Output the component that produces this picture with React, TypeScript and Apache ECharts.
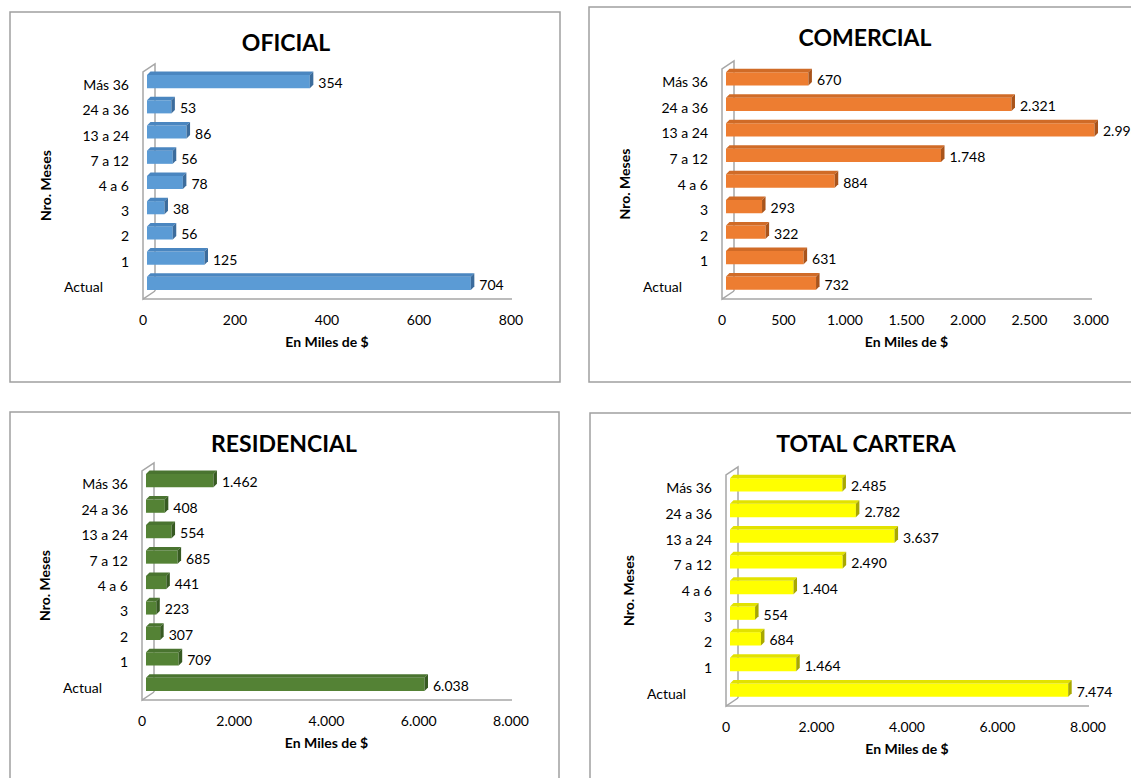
import React, { useEffect, useRef } from "react";
import * as echarts from "echarts";

const CATEGORIES = ["Actual", "1", "2", "3", "4 a 6", "7 a 12", "13 a 24", "24 a 36", "Más 36"];

const OFICIAL = [704, 125, 56, 38, 78, 56, 86, 53, 354];
const COMERCIAL = [732, 631, 322, 293, 884, 1748, 2996, 2321, 670];
const RESIDENCIAL = [6038, 709, 307, 223, 441, 685, 554, 408, 1462];
const TOTAL_CARTERA = [7474, 1464, 684, 554, 1404, 2490, 3637, 2782, 2485];

const TITLES = ["OFICIAL", "COMERCIAL", "RESIDENCIAL", "TOTAL CARTERA"];
const X_MAX = [800, 3000, 8000, 8000];
const X_INTERVAL = [200, 500, 2000, 2000];
const X_NAME = "En Miles de $";
const Y_NAME = "Nro. Meses";

const SERIES_VALUES = [OFICIAL, COMERCIAL, RESIDENCIAL, TOTAL_CARTERA];

const COLORS = [
  { front: "#5B9BD5", top: "#4A86C0", side: "#3C6C9C" },
  { front: "#ED7D31", top: "#D06B27", side: "#A9541B" },
  { front: "#548235", top: "#4A7430", side: "#375A22" },
  { front: "#FFFF00", top: "#E2E200", side: "#A8A800" },
];

// layout (pixels)
const GRIDS = [
  { left: 143, top: 72, width: 368, height: 227 },
  { left: 722, top: 69, width: 369, height: 230 },
  { left: 142, top: 471, width: 369, height: 229 },
  { left: 726, top: 475, width: 362, height: 231 },
];
const PANELS = [
  { x: 10, y: 12, width: 550, height: 370 },
  { x: 589, y: 7, width: 620, height: 375 },
  { x: 10, y: 412, width: 549, height: 420 },
  { x: 590, y: 413, width: 620, height: 420 },
];
const TITLE_POS = [
  [286, 42],
  [865, 37],
  [284, 443],
  [866, 443],
];

const FONT = "Lato, 'Noto Sans', sans-serif";
const WALL = "#A6A6A6";
const OFF_X = 4;
const OFF_Y = -3;
const DEPTH = 3.5;
const WALL_X = 12;
const WALL_Y = -8;

const fmt = (n: number) => String(Math.round(n)).replace(/\B(?=(\d{3})+(?!\d))/g, ".");

function buildOption() {
  const grid = GRIDS.map((g) => ({ ...g }));
  const xAxis = GRIDS.map((_, i) => ({
    type: "value",
    gridIndex: i,
    min: 0,
    max: X_MAX[i],
    interval: X_INTERVAL[i],
    axisLine: { show: false },
    axisTick: { show: false },
    splitLine: { show: false },
    axisLabel: {
      formatter: (v: number) => fmt(v),
      margin: 13,
      fontSize: 14,
      fontFamily: FONT,
      color: "#000",
    },
    name: X_NAME,
    nameLocation: "middle",
    nameGap: 35,
    nameTextStyle: { fontSize: 14, fontWeight: "bold", fontFamily: FONT, color: "#000" },
  }));
  const yAxis = GRIDS.map((_, i) => ({
    type: "category",
    gridIndex: i,
    data: CATEGORIES,
    axisLine: { show: false },
    axisTick: { show: false },
    splitLine: { show: false },
    axisLabel: {
      margin: 14,
      fontSize: 14,
      fontFamily: FONT,
      color: "#000",
      formatter: (v: string) => (v === "Actual" ? `{a|${v}}` : v),
      rich: {
        a: { fontSize: 14, fontFamily: FONT, color: "#000", padding: [0, 26, 0, 0] },
      },
    },
    name: Y_NAME,
    nameLocation: "middle",
    nameGap: 91,
    nameRotate: 90,
    nameTextStyle: { fontSize: 14, fontWeight: "bold", fontFamily: FONT, color: "#000" },
  }));

  const series: any[] = [];
  GRIDS.forEach((_, gi) => {
    series.push({
      type: "custom",
      xAxisIndex: gi,
      yAxisIndex: gi,
      z: 1,
      silent: true,
      data: [[0, 0]],
      renderItem: (params: any) => {
        const cs = params.coordSys;
        const x = cs.x;
        const y = cs.y;
        const w = cs.width;
        const h = cs.height;
        const ls = { stroke: WALL, lineWidth: 1.5, fill: "none" };
        return {
          type: "group",
          children: [
            {
              type: "polyline",
              shape: {
                points: [
                  [x + WALL_X, y + h + WALL_Y],
                  [x + WALL_X, y + WALL_Y],
                  [x, y],
                  [x, y + h],
                  [x + WALL_X, y + h + WALL_Y],
                ],
              },
              style: ls,
            },
            { type: "line", shape: { x1: x, y1: y + h, x2: x + w + 1, y2: y + h }, style: ls },
          ],
        };
      },
    });
    const col = COLORS[gi];
    series.push({
      type: "custom",
      xAxisIndex: gi,
      yAxisIndex: gi,
      z: 3,
      data: SERIES_VALUES[gi].map((v, i) => [v, i]),
      renderItem: (params: any, api: any) => {
        const v = api.value(0);
        const ci = api.value(1);
        const p0 = api.coord([0, ci]);
        const p1 = api.coord([v, ci]);
        const band = api.size([0, 1])[1];
        const h = band * 0.52;
        const x0 = p0[0] + OFF_X;
        const x1 = p1[0] + OFF_X;
        const yc = p0[1] + OFF_Y;
        const yt = yc - h / 2;
        const yb = yc + h / 2;
        return {
          type: "group",
          children: [
            { type: "rect", shape: { x: x0, y: yt, width: x1 - x0, height: h }, style: { fill: col.front } },
            {
              type: "polygon",
              shape: { points: [[x0, yt], [x1, yt], [x1 + DEPTH, yt - DEPTH], [x0 + DEPTH, yt - DEPTH]] },
              style: { fill: col.top },
            },
            {
              type: "polygon",
              shape: { points: [[x1, yt], [x1 + DEPTH, yt - DEPTH], [x1 + DEPTH, yb - DEPTH], [x1, yb]] },
              style: { fill: col.side },
            },
            {
              type: "text",
              style: {
                text: fmt(v),
                x: x1 + DEPTH + 5,
                y: yc + 1,
                align: "left",
                verticalAlign: "middle",
                fontSize: 14,
                fontFamily: FONT,
                fill: "#000",
              },
            },
          ],
        };
      },
    });
  });

  const graphic: any[] = [];
  PANELS.forEach((p) => {
    graphic.push({
      type: "rect",
      silent: true,
      z: -10,
      shape: { ...p },
      style: { fill: "#fff", stroke: "#A0A0A0", lineWidth: 1.5 },
    });
  });
  TITLES.forEach((t, i) => {
    graphic.push({
      type: "text",
      silent: true,
      x: TITLE_POS[i][0],
      y: TITLE_POS[i][1],
      style: {
        text: t,
        align: "center",
        verticalAlign: "middle",
        fontSize: 23,
        fontWeight: "bold",
        fontFamily: FONT,
        fill: "#000",
      },
    });
  });

  return {
    animation: false,
    backgroundColor: "#fff",
    grid,
    xAxis,
    yAxis,
    series,
    graphic,
  };
}

export default function App() {
  const ref = useRef<HTMLDivElement>(null);
  useEffect(() => {
    if (!ref.current) return;
    const chart = echarts.init(ref.current, undefined, { renderer: "svg" });
    chart.setOption(buildOption() as any);
    return () => chart.dispose();
  }, []);
  return (
    <div
      ref={ref}
      style={{ position: "fixed", left: 0, top: 0, width: 1131, height: 778, background: "#fff" }}
    />
  );
}
